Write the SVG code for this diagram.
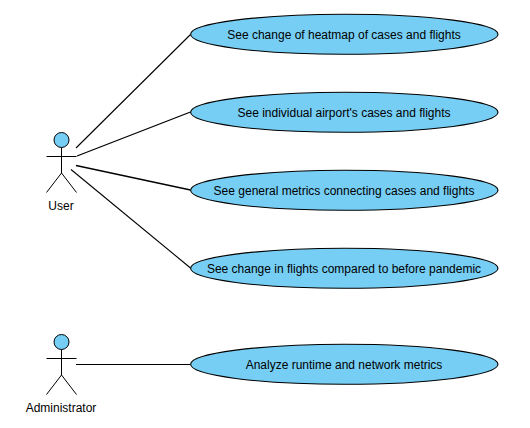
<svg xmlns="http://www.w3.org/2000/svg" width="530" height="428" viewBox="0 0 530 428">
<style>
.uc{fill:#76cef5;stroke:#000;stroke-width:1.1}
.head{fill:#76cef5;stroke:#000;stroke-width:1}
.ln{fill:none;stroke:#000;stroke-width:1}
.mid{stroke-width:1.1}
.bold{stroke-width:1.3}
text{font-family:"Liberation Sans",Arial,sans-serif;font-size:12px;fill:#000;text-anchor:middle}
</style>
<rect width="530" height="428" fill="#fff"/>
<g id="connectors" class="ln">
<path class="mid" d="M76 148L190.500 34.500"/>
<path class="bold" d="M77 156L190.500 112"/>
<path class="bold" d="M76 165.500L190.500 190"/>
<path class="mid" d="M71 169.500L190.500 268"/>
<path d="M76 364.500H190.500"/>
</g>
<g id="actor-user">
<circle class="head" cx="61.500" cy="140" r="7.500"/>
<path class="ln" d="M61.500 147.500V173M46.500 156.500H76.500M46.500 192.500L61.500 173L76.500 192.500"/>
<text x="61" y="210">User</text>
</g>
<g id="actor-admin">
<circle class="head" cx="61.500" cy="342" r="7.500"/>
<path class="ln" d="M61.500 349.500V375M46.500 358.500H76.500M46.500 394.500L61.500 375L76.500 394.500"/>
<text x="61" y="412">Administrator</text>
</g>
<g id="uc1"><ellipse class="uc" cx="344.300" cy="34.300" rx="153.700" ry="20"/><text x="344" y="39">See change of heatmap of cases and flights</text></g>
<g id="uc2"><ellipse class="uc" cx="344.300" cy="112.300" rx="153.700" ry="20"/><text x="344" y="117">See individual airport's cases and flights</text></g>
<g id="uc3"><ellipse class="uc" cx="344.300" cy="190.300" rx="153.700" ry="20"/><text x="344" y="195">See general metrics connecting cases and flights</text></g>
<g id="uc4"><ellipse class="uc" cx="344.300" cy="268.300" rx="153.700" ry="20"/><text x="344" y="273">See change in flights compared to before pandemic</text></g>
<g id="uc5"><ellipse class="uc" cx="344.300" cy="364.300" rx="153.700" ry="20"/><text x="344" y="369">Analyze runtime and network metrics</text></g>
</svg>
